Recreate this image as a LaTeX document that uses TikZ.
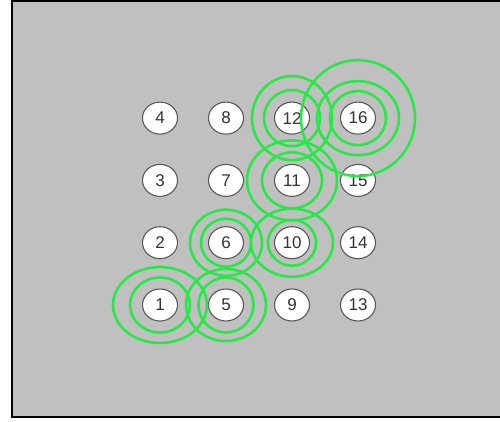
\documentclass[tikz,border=0pt]{standalone}
\usepackage{fontspec}
\setsansfont{Liberation Sans}
\usetikzlibrary{shapes.geometric}
\definecolor{panel}{RGB}{192,192,192}
\definecolor{sig}{RGB}{40,232,72}
\tikzset{cell/.style={ellipse, draw=black!65, line width=1.1pt, fill=white, text=black!80, minimum width=35pt, minimum height=32pt, inner sep=0pt, font=\sffamily\fontsize{17}{17}\selectfont},
  ring/.style={draw=sig, line width=2.6pt}}
\begin{document}
\begin{tikzpicture}[x=1pt,y=-1pt]
  \useasboundingbox (0,0) rectangle (500,421);
  % panel
  \fill[panel] (12,1) rectangle (500,417);
  \draw[black, line width=1.8pt] (500,1) -- (12,1) -- (12,417) -- (500,417);
  % 4x4 grid, numbered up the columns
  \foreach \c in {0,1,2,3}{
    \foreach \r in {0,1,2,3}{
      \pgfmathtruncatemacro{\n}{4*\c+\r+1}
      \node[cell] (n\n) at ({160+66*\c},{305-62.3*\r}) {\n};}}
  % signal rings
  \foreach \i/\a/\b/\p/\q in {1/30/27.5/47/38, 5/27.5/27.5/40/36, 6/25/24/36/33,
      10/24/23/41/34, 11/30/28/45/40, 12/28/28/40/42, 16/28/27/41/37}{
    \draw[ring] (n\i) ellipse ({\a} and {\b});
    \draw[ring] (n\i) ellipse ({\p} and {\q});}
  \draw[ring] (n16) ellipse (57 and 58);
\end{tikzpicture}
\end{document}
